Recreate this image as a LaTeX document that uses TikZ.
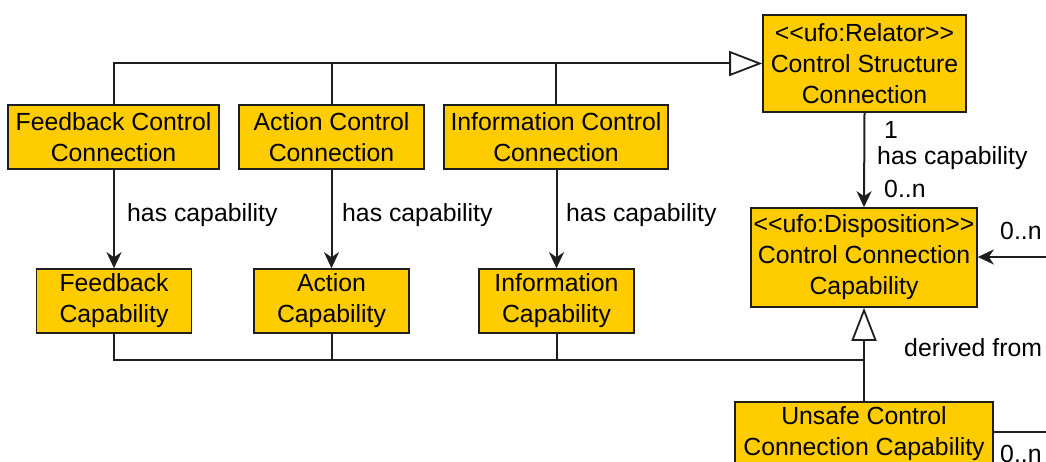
\documentclass[tikz,border=0pt]{standalone}
\usepackage{fontspec}
\setmainfont{Liberation Sans}
\usetikzlibrary{arrows.meta}
\definecolor{boxfill}{RGB}{255,204,0}
\definecolor{boxline}{RGB}{30,30,30}
\newcommand{\ltlt}{<\kern0pt<}
\newcommand{\gtgt}{>\kern0pt>}
\tikzset{
  cls/.style={draw=boxline, line width=1.6pt, fill=boxfill, align=center, inner sep=0pt,
    font=\fontsize{24.8}{31}\selectfont},
  lbl/.style={font=\fontsize{24.8}{31}\selectfont, inner sep=0pt, anchor=west},
  conn/.style={draw=boxline, line width=2pt},
  gen/.style={conn, -{Triangle[open, length=33pt, width=25pt, line width=1.8pt]}},
  assoc/.style={conn, -{Stealth[length=16pt, width=15pt, inset=5pt]}},
}
\begin{document}
\begin{tikzpicture}[x=1pt, y=-1pt]
\useasboundingbox (0,0) rectangle (1046,462);
% class boxes
\node[cls, minimum width=203pt, minimum height=97pt] (csc) at (864.5,63.5) {\ltlt ufo:Relator\gtgt\\Control Structure\\Connection};
\node[cls, minimum width=226pt, minimum height=99pt] (dcc) at (864,257.5) {\ltlt ufo:Disposition\gtgt\\Control Connection\\Capability};
\node[cls, minimum width=258pt, minimum height=64pt] (ucc) at (864,434) {Unsafe Control\\Connection Capability};
\node[cls, minimum width=211pt, minimum height=64pt] (fcc) at (113.5,137) {Feedback Control\\Connection};
\node[cls, minimum width=185pt, minimum height=64pt] (acc) at (331.5,137) {Action Control\\Connection};
\node[cls, minimum width=224pt, minimum height=64pt] (icc) at (556,137) {Information Control\\Connection};
\node[cls, minimum width=155pt, minimum height=64pt] (fc) at (114,301) {Feedback\\Capability};
\node[cls, minimum width=155pt, minimum height=64pt] (ac) at (331.5,301) {Action\\Capability};
\node[cls, minimum width=155pt, minimum height=64pt] (ic) at (556.5,301) {Information\\Capability};
% helper coordinates
\coordinate (jb) at (864,360);
\coordinate (rin) at (1046,257);
\coordinate (rout) at (1046,432);
% generalization to Control Structure Connection
\draw[gen] (fcc.north -| fc.north) |- (csc.west);
\draw[conn] (acc.north) -- (acc.north |- csc.west);
\draw[conn] (icc.north) -- (icc.north |- csc.west);
% has capability
\draw[assoc] (fcc.south -| fc.north) -- (fc.north);
\draw[assoc] (acc.south) -- (ac.north);
\draw[assoc] (icc.south -| ic.north) -- (ic.north);
\draw[assoc] (csc.south) -- (dcc.north);
% generalization to Control Connection Capability
\draw[gen] (ucc.north) -- (dcc.south);
\draw[conn] (fc.south) |- (jb);
\draw[conn] (ac.south) -- (ac.south |- jb);
\draw[conn] (ic.south) -- (ic.south |- jb);
% free connectors on the right
\draw[assoc] (rin) -- (dcc.east |- rin);
\draw[conn] (ucc.east |- rout) -- (rout);
% labels
\node[lbl] (l1) at (127,215) {has capability};
\node[lbl] (l2) at (342,215) {has capability};
\node[lbl] (l3) at (566,215) {has capability};
\node[lbl] (m1) at (884,130) {1};
\node[lbl] (l4) at (877,158) {has capability};
\node[lbl] (m2) at (884,189) {0..n};
\node[lbl] (m3) at (1000,231) {0..n};
\node[lbl] (l5) at (904,348) {derived from};
\node[lbl] (m4) at (1000,454) {0..n};
\end{tikzpicture}
\end{document}
